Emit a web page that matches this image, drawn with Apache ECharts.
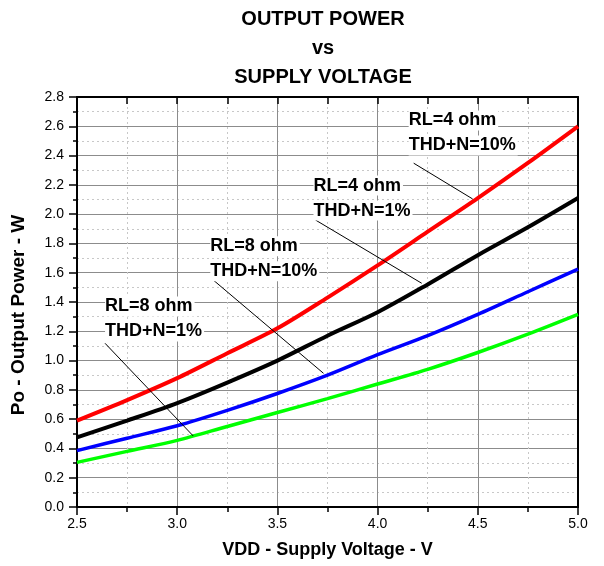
<!DOCTYPE html>
<html>
<head>
<meta charset="utf-8">
<script src="https://cdn.jsdelivr.net/npm/echarts@6/dist/echarts.min.js"></script>
<style>html,body{margin:0;padding:0;background:#fff;}#c{width:604px;height:566px;}</style>
</head>
<body>
<div id="c"></div>
<script>
var vdd = [2.5, 2.75, 3.0, 3.25, 3.5, 3.75, 4.0, 4.25, 4.5, 4.75, 5.0];
var rl4thd10 = [0.59, 0.73, 0.88, 1.05, 1.22, 1.43, 1.65, 1.88, 2.11, 2.35, 2.60];
var rl4thd1  = [0.475, 0.59, 0.71, 0.85, 1.00, 1.17, 1.33, 1.52, 1.72, 1.91, 2.11];
var rl8thd10 = [0.385, 0.47, 0.555, 0.66, 0.775, 0.90, 1.04, 1.17, 1.315, 1.47, 1.625];
var rl8thd1  = [0.305, 0.38, 0.455, 0.55, 0.645, 0.74, 0.84, 0.94, 1.055, 1.18, 1.315];
var seriesNames = ['RL=4 ohm THD+N=10%', 'RL=4 ohm THD+N=1%', 'RL=8 ohm THD+N=10%', 'RL=8 ohm THD+N=1%'];
var seriesColors = ['#ff0000', '#000000', '#0000ff', '#00ff00'];
// annotations: text anchor (data coords) and pointer line endpoints (data coords)
var annoText = [
  ['RL=4 ohm', 'THD+N=10%'],
  ['RL=4 ohm', 'THD+N=1%'],
  ['RL=8 ohm', 'THD+N=10%'],
  ['RL=8 ohm', 'THD+N=1%']
];
var annoAnchor = [[4.155, 2.64], [3.68, 2.195], [3.165, 1.78], [2.64, 1.37]];
var annoFrom = [[4.18, 2.348], [3.69, 1.96], [3.18, 1.55], [2.64, 1.118]];
var annoTo   = [[4.474, 2.104], [4.22, 1.528], [3.73, 0.913], [3.08, 0.485]];

var FONT = 'Arial, "Liberation Sans", sans-serif';
var chart = echarts.init(document.getElementById('c'), null, {renderer: 'canvas'});

function pairs(ys) { return vdd.map(function (x, i) { return [x, ys[i]]; }); }
var allData = [rl4thd10, rl4thd1, rl8thd10, rl8thd1];

var series = allData.map(function (d, i) {
  return {
    name: seriesNames[i], type: 'line', data: pairs(d), symbol: 'none', smooth: 0.3,
    lineStyle: {color: seriesColors[i], width: i < 2 ? 4 : 3.5}, z: 3
  };
});
series.push({
  type: 'line', data: [], silent: true,
  markLine: {
    silent: true, symbol: 'none', animation: false,
    lineStyle: {color: '#000', width: 1, type: 'solid'},
    label: {show: false},
    data: annoFrom.map(function (f, i) { return [{coord: f}, {coord: annoTo[i]}]; })
  }
});

chart.setOption({
  animation: false,
  title: {
    text: 'OUTPUT POWER\nvs\nSUPPLY VOLTAGE',
    left: 318, top: 0, textAlign: 'center',
    textStyle: {fontFamily: FONT, fontSize: 20, fontWeight: 'bold', color: '#000', lineHeight: 29}
  },
  grid: {left: 77, right: 26, top: 97, bottom: 59},
  xAxis: [{
    type: 'value', min: 2.5, max: 5.0, interval: 0.5,
    name: 'VDD - Supply Voltage - V', nameLocation: 'middle', nameGap: 34,
    nameTextStyle: {fontFamily: FONT, fontSize: 18, fontWeight: 'bold', color: '#000'},
    axisLine: {show: true, onZero: false, lineStyle: {color: '#000', width: 2}},
    axisTick: {show: true, inside: false, length: 8, lineStyle: {color: '#000', width: 1.5}},
    minorTick: {show: true, splitNumber: 2, length: 5, lineStyle: {color: '#000', width: 1.5}},
    axisLabel: {fontFamily: FONT, fontSize: 14, color: '#000', margin: 10, formatter: function (v) { return v.toFixed(1); }},
    splitLine: {show: true, lineStyle: {color: '#8c8c8c', width: 1}},
    minorSplitLine: {show: true, lineStyle: {color: '#c8c8c8', width: 1, type: [2, 3]}}
  }, {
    type: 'value', position: 'top', min: 2.5, max: 5.0, interval: 0.25,
    axisLine: {show: true, onZero: false, lineStyle: {color: '#000', width: 2}},
    axisTick: {show: true, inside: true, length: 7, lineStyle: {color: '#000', width: 1.5}},
    axisLabel: {show: false}, splitLine: {show: false}
  }],
  yAxis: [{
    type: 'value', min: 0, max: 2.8, interval: 0.2,
    name: 'Po - Output Power - W', nameLocation: 'middle', nameGap: 49, nameRotate: 90,
    nameTextStyle: {fontFamily: FONT, fontSize: 19, fontWeight: 'bold', color: '#000', padding: [0, 26, 0, 0]},
    axisLine: {show: true, onZero: false, lineStyle: {color: '#000', width: 2}},
    axisTick: {show: true, inside: false, length: 8, lineStyle: {color: '#000', width: 1.5}},
    minorTick: {show: true, splitNumber: 2, length: 4, lineStyle: {color: '#000', width: 1.5}},
    axisLabel: {fontFamily: FONT, fontSize: 14, color: '#000', margin: 13, formatter: function (v) { return v.toFixed(1); }},
    splitLine: {show: true, lineStyle: {color: '#8c8c8c', width: 1}},
    minorSplitLine: {show: true, lineStyle: {color: '#c8c8c8', width: 1, type: [2, 3]}}
  }, {
    type: 'value', position: 'right', min: 0, max: 2.8, interval: 0.2,
    axisLine: {show: true, onZero: false, lineStyle: {color: '#000', width: 2}},
    axisTick: {show: false}, axisLabel: {show: false}, splitLine: {show: false}
  }],
  series: series
});

var gr = [];
annoText.forEach(function (lines, i) {
  var p = chart.convertToPixel({xAxisIndex: 0, yAxisIndex: 0}, annoAnchor[i]);
  lines.forEach(function (t, j) {
    gr.push({
      type: 'text', x: p[0], y: p[1] + j * 25, z: 10,
      style: {
        text: t, fill: '#000', font: 'bold 18px ' + FONT,
        textAlign: 'left', textVerticalAlign: 'middle',
        backgroundColor: '#fff', padding: [1, 2, 1, 0]
      }
    });
  });
});
chart.setOption({graphic: gr});
</script>
</body>
</html>
